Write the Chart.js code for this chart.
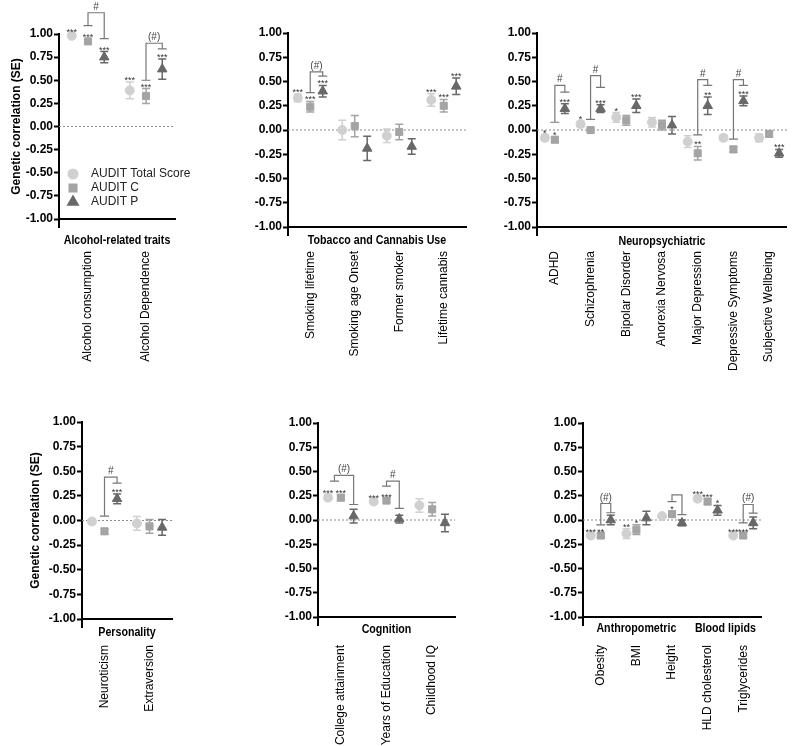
<!DOCTYPE html>
<html>
<head>
<meta charset="utf-8">
<script src="https://cdn.jsdelivr.net/npm/chart.js@4.4.1/dist/chart.umd.min.js"></script>
<style>
  body { margin: 0; background: #fff; width: 800px; height: 746px; position: relative; overflow: hidden; }
  canvas { position: absolute; }
</style>
</head>
<body>
<canvas id="alcChart" width="265" height="380" style="left:0;top:0"></canvas>
<canvas id="tobChart" width="255" height="380" style="left:250px;top:0"></canvas>
<canvas id="neuChart" width="300" height="380" style="left:500px;top:0"></canvas>
<canvas id="perChart" width="265" height="366" style="left:0;top:380px"></canvas>
<canvas id="cogChart" width="260" height="366" style="left:270px;top:380px"></canvas>
<canvas id="antChart" width="260" height="366" style="left:540px;top:380px"></canvas>
<script>
const seriesNames = ['AUDIT Total Score', 'AUDIT C', 'AUDIT P'];

// Alcohol-related traits
const alcCats = ['Alcohol consumption', 'Alcohol Dependence'];
const alcTotal = [0.98, 0.39], alcTotalSE = [0.02, 0.09], alcTotalSig = ['***', '***'];
const alcC = [0.92, 0.33], alcCSE = [0.03, 0.08], alcCSig = ['***', '***'];
const alcP = [0.75, 0.62], alcPSE = [0.06, 0.11], alcPSig = ['***', '***'];
// [category, from series, to series, left end, top, right end, label]
const alcBrackets = [[0, 1, 2, 1.09, 1.23, 0.95, '#'], [1, 1, 2, 0.50, 0.90, 0.84, '(#)']];

// Tobacco and Cannabis Use
const tobCats = ['Smoking lifetime', 'Smoking age Onset', 'Former smoker', 'Lifetime cannabis'];
const tobTotal = [0.33, 0.00, -0.06, 0.31], tobTotalSE = [0.04, 0.10, 0.07, 0.065], tobTotalSig = ['***', '', '', '***'];
const tobC = [0.24, 0.04, -0.02, 0.25], tobCSE = [0.055, 0.11, 0.08, 0.065], tobCSig = ['***', '', '', '***'];
const tobP = [0.40, -0.19, -0.17, 0.45], tobPSE = [0.06, 0.125, 0.08, 0.085], tobPSig = ['***', '', '', '***'];
const tobBrackets = [[0, 1, 2, 0.385, 0.60, 0.555, '(#)']];

// Neuropsychiatric
const neuCats = ['ADHD', 'Schizophrenia', 'Bipolar Disorder', 'Anorexia Nervosa', 'Major Depression', 'Depressive Symptoms', 'Subjective Wellbeing'];
const neuTotal = [-0.08, 0.06, 0.13, 0.08, -0.12, -0.08, -0.08], neuTotalSE = [0.03, 0.03, 0.05, 0.05, 0.06, 0.03, 0.04];
const neuTotalSig = ['*', '*', '*', '', '', '', ''];
const neuC = [-0.10, 0.00, 0.10, 0.05, -0.24, -0.20, -0.04], neuCSE = [0.03, 0.02, 0.05, 0.05, 0.07, 0.03, 0.03];
const neuCSig = ['*', '', '', '', '**', '', ''];
const neuP = [0.22, 0.22, 0.25, 0.05, 0.25, 0.30, -0.24], neuPSE = [0.05, 0.04, 0.07, 0.09, 0.09, 0.05, 0.04];
const neuPSig = ['***', '***', '***', '', '**', '***', '***'];
const neuBrackets = [[0, 1, 2, 0.08, 0.46, 0.39, '#'], [1, 1, 2, 0.11, 0.56, 0.44, '#'],
                     [4, 1, 2, -0.05, 0.52, 0.46, '#'], [5, 1, 2, -0.095, 0.52, 0.46, '#']];

// Personality
const perCats = ['Neuroticism', 'Extraversion'];
const perTotal = [-0.01, -0.03], perTotalSE = [0.02, 0.07], perTotalSig = ['', ''];
const perC = [-0.11, -0.06], perCSE = [0.03, 0.07], perCSig = ['', ''];
const perP = [0.22, -0.07], perPSE = [0.05, 0.08], perPSig = ['***', ''];
const perBrackets = [[0, 1, 2, 0.045, 0.44, 0.38, '#']];

// Cognition
const cogCats = ['College attainment', 'Years of Education', 'Childhood IQ'];
const cogTotal = [0.23, 0.19, 0.15], cogTotalSE = [0.03, 0.02, 0.07], cogTotalSig = ['***', '***', ''];
const cogC = [0.23, 0.20, 0.11], cogCSE = [0.03, 0.02, 0.07], cogCSig = ['***', '***', ''];
const cogP = [0.04, 0.01, -0.03], cogPSE = [0.07, 0.04, 0.09], cogPSig = ['', '', ''];
const cogBrackets = [[0, 0.5, 2, 0.40, 0.46, 0.16, '(#)'], [1, 1, 2, 0.35, 0.40, 0.12, '#']];

// Anthropometric / Blood lipids
const antCats = ['Obesity', 'BMI', 'Height', 'HLD cholesterol', 'Triglycerides'];
const antTotal = [-0.16, -0.14, 0.04, 0.22, -0.16], antTotalSE = [0.02, 0.05, 0.02, 0.03, 0.02];
const antTotalSig = ['***', '**', '', '***', '***'];
const antC = [-0.16, -0.10, 0.06, 0.19, -0.16], antCSE = [0.02, 0.05, 0.03, 0.03, 0.02];
const antCSig = ['**', '*', '*', '***', '***'];
const antP = [0.00, 0.02, -0.03, 0.10, -0.03], antPSE = [0.05, 0.07, 0.03, 0.05, 0.06];
const antPSig = ['', '', '', '*', ''];
const antBrackets = [[0, 1, 2, -0.05, 0.17, 0.075, '(#)'], [2, 1, 2, 0.19, 0.26, 0.055, ''], [4, 1, 2, -0.03, 0.16, 0.07, '(#)']];

Chart.defaults.font.family = '"Liberation Sans", Arial, sans-serif';
Chart.defaults.color = '#000';

const colors = ['#d0d0d0', '#a4a4a4', '#686868'];
const shapes = ['circle', 'rect', 'triangle'];
const radii = [4.5, 5, 5.5];
const dodge = 0.28;
// group titles look like a condensed bold face; squeeze them horizontally
const titleFont = 'bold 13px "Liberation Sans", Arial, sans-serif';
const titleSqueeze = 0.82;

function drawMarker(ctx, s, x, y) {
    ctx.fillStyle = colors[s];
    ctx.strokeStyle = colors[s];
    if (Chart.helpers && Chart.helpers.drawPoint) {
        Chart.helpers.drawPoint(ctx, {pointStyle: shapes[s], radius: radii[s], rotation: 0, borderWidth: 1}, x, y);
    }
}

// error bars, zero line, stars, brackets, group titles
function marksPlugin(cats, brackets, groups, lay) {
    return {
        id: 'marks',
        beforeDatasetsDraw(chart) {
            const ctx = chart.ctx, x = chart.scales.x, y = chart.scales.y, a = chart.chartArea;
            ctx.save();
            const y0 = y.getPixelForValue(0);
            ctx.strokeStyle = '#8c8c8c';
            ctx.lineWidth = 1;
            ctx.setLineDash([2, 2]);
            ctx.beginPath();
            ctx.moveTo(a.left, y0);
            ctx.lineTo(a.right, y0);
            ctx.stroke();
            ctx.setLineDash([]);
            chart.data.datasets.forEach(ds => {
                ctx.strokeStyle = ds.borderColor;
                ctx.lineWidth = 1.5;
                ds.data.forEach((p, i) => {
                    const px = x.getPixelForValue(p.x);
                    const lo = y.getPixelForValue(p.y - ds.se[i]);
                    const hi = y.getPixelForValue(p.y + ds.se[i]);
                    ctx.beginPath();
                    ctx.moveTo(px, lo); ctx.lineTo(px, hi);
                    ctx.moveTo(px - 4, lo); ctx.lineTo(px + 4, lo);
                    ctx.moveTo(px - 4, hi); ctx.lineTo(px + 4, hi);
                    ctx.stroke();
                });
            });
            ctx.restore();
        },
        afterDraw(chart) {
            const ctx = chart.ctx, x = chart.scales.x, y = chart.scales.y, a = chart.chartArea;
            ctx.save();
            // significance stars
            ctx.fillStyle = '#333';
            ctx.font = '9px "Liberation Sans", Arial, sans-serif';
            ctx.textAlign = 'center';
            ctx.textBaseline = 'alphabetic';
            chart.data.datasets.forEach(ds => {
                ds.data.forEach((p, i) => {
                    if (!ds.sig[i]) return;
                    const hi = y.getPixelForValue(p.y + ds.se[i]);
                    ctx.fillText(ds.sig[i], x.getPixelForValue(p.x), hi + 1);
                });
            });
            // comparison brackets
            ctx.strokeStyle = '#777';
            ctx.lineWidth = 1.2;
            ctx.font = '10px "Liberation Sans", Arial, sans-serif';
            ctx.fillStyle = '#444';
            brackets.forEach(([c, f, t, yl, yt, yr, lab]) => {
                const xl = x.getPixelForValue(c + (f - 1) * dodge);
                const xr = x.getPixelForValue(c + (t - 1) * dodge);
                const pl = y.getPixelForValue(yl), pt = y.getPixelForValue(yt), pr = y.getPixelForValue(yr);
                ctx.beginPath();
                ctx.moveTo(xl - 4.5, pl); ctx.lineTo(xl + 4.5, pl);
                ctx.moveTo(xl, pl); ctx.lineTo(xl, pt); ctx.lineTo(xr, pt); ctx.lineTo(xr, pr);
                ctx.moveTo(xr - 4.5, pr); ctx.lineTo(xr + 4.5, pr);
                ctx.stroke();
                if (lab) ctx.fillText(lab, (xl + xr) / 2, pt - 3);
            });
            // y axis runs on below the x axis
            ctx.strokeStyle = '#000';
            ctx.lineWidth = 2;
            ctx.beginPath();
            ctx.moveTo(a.left, a.bottom);
            ctx.lineTo(a.left, a.bottom + 9);
            ctx.stroke();
            // group titles under the axis
            ctx.fillStyle = '#000';
            ctx.font = titleFont;
            ctx.textBaseline = 'middle';
            groups.forEach(([label, from, to]) => {
                const cx = (x.getPixelForValue(from - 0.5) + x.getPixelForValue(to + 0.5)) / 2;
                ctx.save();
                ctx.translate(cx, lay.titleY);
                ctx.scale(titleSqueeze, 1);
                ctx.fillText(label, 0, 0);
                ctx.restore();
            });
            // legend
            if (lay.legend) {
                ctx.font = '12px "Liberation Sans", Arial, sans-serif';
                ctx.textAlign = 'left';
                seriesNames.forEach((name, s) => {
                    const ly = lay.legend.y + s * 14;
                    drawMarker(ctx, s, a.left + 14, ly);
                    ctx.fillStyle = '#222';
                    ctx.fillText(name, a.left + 32, ly);
                });
            }
            ctx.restore();
        }
    };
}

function buildPanel(id, cats, vals, ses, sigs, brackets, groups, lay) {
    const datasets = vals.map((v, s) => ({
        label: seriesNames[s],
        data: v.map((val, i) => ({x: i + (s - 1) * dodge, y: val})),
        se: ses[s],
        sig: sigs[s],
        pointStyle: shapes[s],
        pointRadius: radii[s],
        pointHoverRadius: radii[s],
        backgroundColor: colors[s],
        borderColor: colors[s],
        borderWidth: 1,
        showLine: false,
        clip: false
    }));
    return new Chart(document.getElementById(id), {
        type: 'scatter',
        data: {datasets: datasets},
        options: {
            responsive: false,
            animation: false,
            events: [],
            layout: {padding: {top: lay.top, right: lay.right, left: 0, bottom: 0}},
            plugins: {legend: {display: false}, tooltip: {enabled: false}},
            scales: {
                x: {
                    type: 'linear',
                    bounds: 'data',
                    min: -0.5,
                    max: cats.length - 0.5,
                    grid: {display: false},
                    border: {display: true, color: '#000', width: 2},
                    afterBuildTicks: s => { s.ticks = cats.map((c, i) => ({value: i})); },
                    afterFit: s => { s.height = lay.xH; },
                    ticks: {
                        autoSkip: false, minRotation: 90, maxRotation: 90,
                        padding: lay.tickPad, color: '#000', font: {size: 12},
                        callback: v => cats[v]
                    }
                },
                y: {
                    min: -1,
                    max: 1,
                    afterFit: s => { s.width = lay.yW; },
                    grid: {display: true, drawOnChartArea: false, drawTicks: true, tickLength: 5, tickWidth: 2, tickColor: '#000'},
                    border: {display: true, color: '#000', width: 2},
                    ticks: {stepSize: 0.25, padding: 1, color: '#000', font: {size: 12, weight: 'bold'}, callback: v => v.toFixed(2)},
                    title: {
                        display: !!lay.yTitle, text: 'Genetic correlation (SE)', color: '#000',
                        font: {size: 12, weight: 'bold'}, padding: {top: lay.yTitlePad || 0, bottom: 0}
                    }
                }
            }
        },
        plugins: [marksPlugin(cats, brackets, groups, lay)]
    });
}

buildPanel('alcChart', alcCats, [alcTotal, alcC, alcP], [alcTotalSE, alcCSE, alcPSE], [alcTotalSig, alcCSig, alcPSig],
    alcBrackets, [['Alcohol-related traits', 0, 1]],
    {top: 34, right: 90, yW: 59, xH: 161, tickPad: 24, titleY: 240, yTitle: true, yTitlePad: 9, legend: {y: 174}});
buildPanel('tobChart', tobCats, [tobTotal, tobC, tobP], [tobTotalSE, tobCSE, tobPSE], [tobTotalSig, tobCSig, tobPSig],
    tobBrackets, [['Tobacco and Cannabis Use', 0, 3]],
    {top: 33, right: 39, yW: 38, xH: 153, tickPad: 16, titleY: 240});
buildPanel('neuChart', neuCats, [neuTotal, neuC, neuP], [neuTotalSE, neuCSE, neuPSE], [neuTotalSig, neuCSig, neuPSig],
    neuBrackets, [['Neuropsychiatric', 0, 6]],
    {top: 33, right: 4, yW: 37, xH: 153, tickPad: 16, titleY: 241});
buildPanel('perChart', perCats, [perTotal, perC, perP], [perTotalSE, perCSE, perPSE], [perTotalSig, perCSig, perPSig],
    perBrackets, [['Personality', 0, 1]],
    {top: 42, right: 93, yW: 82, xH: 127, tickPad: 18, titleY: 252, yTitle: true, yTitlePad: 28});
buildPanel('cogChart', cogCats, [cogTotal, cogC, cogP], [cogTotalSE, cogCSE, cogPSE], [cogTotalSig, cogCSig, cogPSig],
    cogBrackets, [['Cognition', 0, 2]],
    {top: 43, right: 75, yW: 48, xH: 129, tickPad: 20, titleY: 249});
buildPanel('antChart', antCats, [antTotal, antC, antP], [antTotalSE, antCSE, antPSE], [antTotalSig, antCSig, antPSig],
    antBrackets, [['Anthropometric', 0, 2], ['Blood lipids', 3, 4]],
    {top: 43, right: 39, yW: 43, xH: 129, tickPad: 20, titleY: 248});
</script>
</body>
</html>
